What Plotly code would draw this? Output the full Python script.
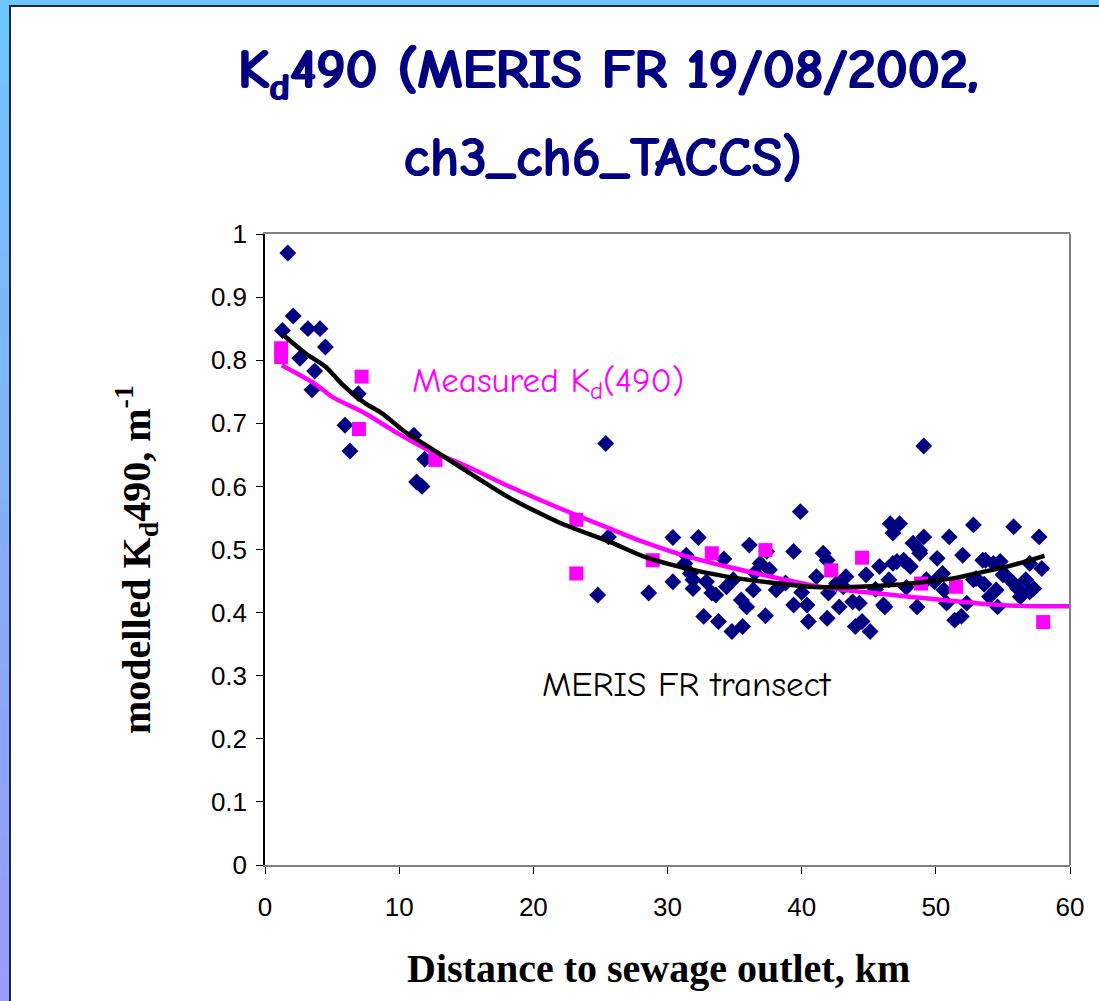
import plotly.graph_objects as go

# ---------------- data ----------------
# MERIS FR modelled Kd490 transect points (diamonds)
meris_x = [1.7, 2.1, 1.3, 3.2, 4.1, 4.5, 2.6, 3.7, 3.5, 6.95, 5.96, 6.33, 11.1, 11.9, 11.3, 11.7,
           25.4, 25.6, 24.8, 28.6,
           30.4, 32.3, 30.4, 39.9, 36.1, 39.4, 31.4, 31.3, 31.9, 31.9, 32.7, 33.8, 34.8, 35.6,
           33.3, 33.6, 34.4, 34.9, 35.5, 35.9, 36.4, 37.3, 36.9, 37.6, 38.1, 39.4, 40.4, 40.5,
           41.9, 41.6, 41.9, 41.1, 42.6, 43.1, 42.8, 43.8, 44.0, 45.1, 44.5, 44.8, 46.1, 46.6,
           47.3, 46.8, 45.8, 46.8, 47.6, 48.3, 49.1, 48.8, 48.6, 50.1, 50.5, 51.0, 52.0, 51.4,
           51.9, 52.8, 53.5, 54.3, 54.8, 55.0, 55.8, 56.1, 57.3, 54.6, 54.0, 55.8, 57.7, 57.9,
           57.0, 50.8, 52.3, 52.8, 49.3, 46.5, 48.1, 43.3, 37.4, 34.2, 31.7, 32.9, 49.1, 48.8,
           53.7, 47.1, 44.3, 49.9, 53.0, 55.3, 57.0, 56.3, 54.5, 46.2, 38.8, 40.0, 42.0, 45.5,
           47.8, 50.6, 53.6, 56.7, 36.5]
meris_y = [0.970, 0.870, 0.847, 0.850, 0.850, 0.821, 0.803, 0.783, 0.753, 0.747, 0.697, 0.656,
           0.681, 0.643, 0.607, 0.600,
           0.668, 0.520, 0.428, 0.431,
           0.519, 0.519, 0.449, 0.560, 0.507, 0.497, 0.491, 0.478, 0.452, 0.438, 0.394, 0.386,
           0.370, 0.378, 0.431, 0.428, 0.441, 0.452, 0.420, 0.409, 0.436, 0.395, 0.478, 0.468,
           0.436, 0.412, 0.412, 0.386, 0.391, 0.494, 0.483, 0.457, 0.446, 0.441, 0.409, 0.417,
           0.378, 0.370, 0.386, 0.460, 0.412, 0.541, 0.541, 0.526, 0.473, 0.478, 0.483, 0.510,
           0.520, 0.499, 0.409, 0.486, 0.462, 0.520, 0.491, 0.388, 0.394, 0.539, 0.483, 0.478,
           0.481, 0.460, 0.446, 0.438, 0.438, 0.409, 0.425, 0.536, 0.520, 0.470, 0.478, 0.415,
           0.415, 0.452, 0.452, 0.452, 0.473, 0.457, 0.497, 0.485, 0.462, 0.449, 0.664, 0.494,
           0.483, 0.481, 0.415, 0.449, 0.454, 0.457, 0.433, 0.425, 0.436, 0.409, 0.447, 0.432,
           0.431, 0.437, 0.440, 0.436, 0.445, 0.452, 0.463]

# Measured Kd(490) (squares)
meas_x = [1.2, 1.2, 7.2, 7.0, 12.7, 23.2, 23.2, 28.9, 33.3, 37.3, 42.2, 44.5, 48.9, 51.5, 58.0]
meas_y = [0.819, 0.805, 0.774, 0.691, 0.642, 0.547, 0.462, 0.483, 0.494, 0.499, 0.467, 0.487,
          0.446, 0.441, 0.385]

# Smoothed curve of measured values (magenta line)
meas_fit_x = [1.24, 3.7, 5.0, 7.45, 9.9, 12.4, 14.5, 18.3, 22.0, 25.7, 28.2, 31.0, 34.4, 37.5,
              40.6, 43.5, 46.8, 50.0, 53.0, 56.0, 60.0]
meas_fit_y = [0.792, 0.763, 0.742, 0.716, 0.684, 0.655, 0.637, 0.599, 0.565, 0.533, 0.512, 0.492,
              0.473, 0.458, 0.444, 0.435, 0.428, 0.421, 0.415, 0.411, 0.410]

# Smoothed MERIS FR transect (black line)
meris_fit_x = [1.3, 3.0, 4.5, 5.7, 7.45, 8.7, 10.4, 12.4, 14.9, 18.3, 22.0, 25.7, 28.2, 31.0,
               34.4, 37.5, 40.6, 44.3, 47.0, 49.3, 51.5, 53.0, 55.5, 58.1]
meris_fit_y = [0.841, 0.811, 0.790, 0.763, 0.732, 0.716, 0.687, 0.660, 0.626, 0.581, 0.542, 0.512,
               0.489, 0.472, 0.457, 0.448, 0.441, 0.441, 0.444, 0.449, 0.455, 0.462, 0.474, 0.490]

x_ticks = [0, 10, 20, 30, 40, 50, 60]
y_ticks = [0, 0.1, 0.2, 0.3, 0.4, 0.5, 0.6, 0.7, 0.8, 0.9, 1]

title_line1 = "K<sub>d</sub>490 (MERIS FR 19/08/2002,"
title_line2 = "ch3_ch6_TACCS)"

# ---------------- layout geometry (pixels) ----------------
FW, FH = 1099, 1001
L, R, T, B = 265, 1070, 234, 865
PW, PH = R - L, B - T


def fx(px):
    return (px - L) / PW


def fy(py):
    return (B - py) / PH


NAVY = "#000080"
MAGENTA = "#FF00FF"
COMIC = "Comic Sans MS, Comic Neue, Open Sans, sans-serif"
SERIF = "Liberation Serif, Times New Roman, serif"
SANS = "Liberation Sans, Arial, sans-serif"

fig = go.Figure()
fig.add_trace(go.Scatter(x=meris_x, y=meris_y, mode="markers",
                         marker=dict(symbol="diamond", size=13, color=NAVY, line=dict(width=0)),
                         name="MERIS FR", showlegend=False))
fig.add_trace(go.Scatter(x=meas_x, y=meas_y, mode="markers",
                         marker=dict(symbol="square", size=14, color=MAGENTA, line=dict(width=0)),
                         name="Measured", showlegend=False))
fig.add_trace(go.Scatter(x=meas_fit_x, y=meas_fit_y, mode="lines",
                         line=dict(color=MAGENTA, width=4.5, shape="spline", smoothing=0.6),
                         showlegend=False))
fig.add_trace(go.Scatter(x=meris_fit_x, y=meris_fit_y, mode="lines",
                         line=dict(color="black", width=4.5, shape="spline", smoothing=0.6),
                         showlegend=False))

shapes = []
# background gradient strips (left) and top strip
top_c = (110, 198, 255)
bot_c = (154, 154, 255)
n = 24
for i in range(n):
    t0 = i / n
    t1 = (i + 1) / n
    c = tuple(int(top_c[k] + (bot_c[k] - top_c[k]) * (t0 + t1) / 2) for k in range(3))
    shapes.append(dict(type="rect", xref="paper", yref="paper", layer="below",
                       x0=fx(0), x1=fx(10), y0=fy(FH * t1), y1=fy(FH * t0),
                       fillcolor="rgb(%d,%d,%d)" % c, line=dict(width=0)))
shapes.append(dict(type="rect", xref="paper", yref="paper", layer="below",
                   x0=fx(0), x1=fx(FW), y0=fy(6), y1=fy(0),
                   fillcolor="rgb(%d,%d,%d)" % top_c, line=dict(width=0)))
# white panel with dark border
shapes.append(dict(type="rect", xref="paper", yref="paper", layer="below",
                   x0=fx(10), x1=fx(FW + 5), y0=fy(FH + 5), y1=fy(6),
                   fillcolor="white", line=dict(color="#202830", width=2)))
# right border of plot area
shapes.append(dict(type="line", xref="paper", yref="paper", x0=1, x1=1, y0=0, y1=1,
                   line=dict(color="#808080", width=2)))

annotations = []
# title lines (drawn with a slight horizontal offset copy to give a heavier stroke)
for dx in (0, 1.5):
    annotations.append(dict(text="<b>" + title_line1 + "</b>", x=fx(607 + dx), y=fy(74),
                            font=dict(family=COMIC, size=56, color=NAVY)))
    annotations.append(dict(text="<b>" + title_line2 + "</b>", x=fx(602 + dx), y=fy(158),
                            font=dict(family=COMIC, size=56, color=NAVY)))
annotations += [
    dict(text="Measured K<sub>d</sub>(490)", x=fx(548), y=fy(382),
         font=dict(family=COMIC, size=35, color=MAGENTA)),
    dict(text="MERIS FR transect", x=fx(686), y=fy(684),
         font=dict(family=COMIC, size=35, color="black")),
    dict(text="<b>Distance to sewage outlet, km</b>", x=fx(658), y=fy(968),
         font=dict(family=SERIF, size=40, color="black")),
    dict(text="<b>modelled K<sub>d</sub>490, m<sup>-1</sup></b>", x=fx(136), y=fy(560),
         textangle=-90, font=dict(family=SERIF, size=40, color="black")),
]
for a in annotations:
    a.update(xref="paper", yref="paper", showarrow=False, xanchor="center", yanchor="middle")

fig.update_layout(
    width=FW, height=FH,
    margin=dict(l=L, r=FW - R, t=T, b=FH - B, pad=0, autoexpand=False),
    paper_bgcolor="rgb(%d,%d,%d)" % top_c,
    plot_bgcolor="white",
    shapes=shapes,
    annotations=annotations,
    showlegend=False,
    xaxis=dict(range=[0, 60], tickvals=x_ticks, ticks="outside", ticklen=7, tickwidth=1,
               tickcolor="black", showline=True, linecolor="#808080", linewidth=2, mirror=True,
               showgrid=False, zeroline=False, ticklabelstandoff=11,
               tickfont=dict(family=SANS, size=26, color="black")),
    yaxis=dict(range=[0, 1], tickvals=y_ticks, ticks="outside", ticklen=7, tickwidth=1,
               tickcolor="black", showline=True, linecolor="black", linewidth=1.5,
               showgrid=False, zeroline=False, ticklabelstandoff=4,
               tickfont=dict(family=SANS, size=26, color="black")),
)

fig.write_html("out.html", config={"displayModeBar": False},
               post_script="document.body.style.margin='0px';document.body.style.overflow='hidden';")
